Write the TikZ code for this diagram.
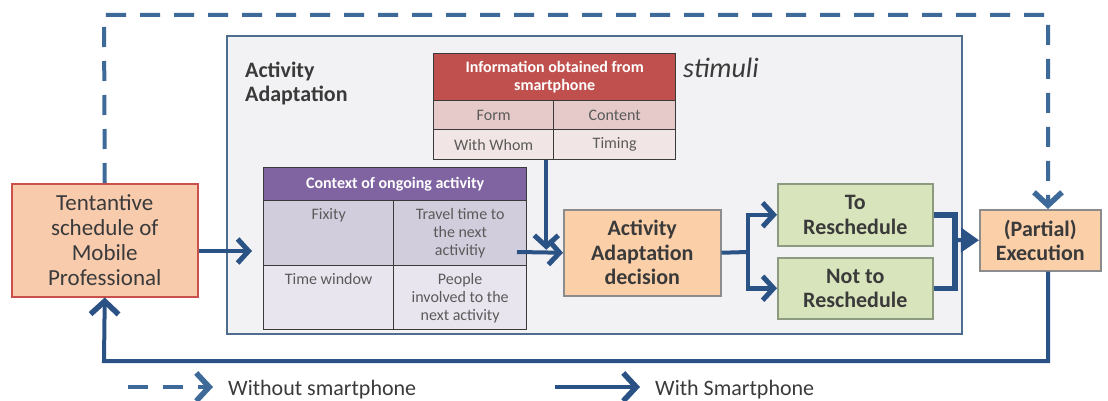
\documentclass[tikz,border=0pt]{standalone}
\usepackage{fontspec}
\setmainfont{Carlito}
\usetikzlibrary{arrows.meta,calc}
\definecolor{conncol}{HTML}{2B5285}
\definecolor{dashcol}{HTML}{3E6A9A}
\definecolor{framecol}{HTML}{4F6D8F}
\definecolor{framefill}{HTML}{F2F2F4}
\definecolor{tentfill}{HTML}{F8CBAD}
\definecolor{tentline}{HTML}{C9504B}
\definecolor{peach}{HTML}{FBCFA8}
\definecolor{boxline}{HTML}{8C8C8C}
\definecolor{greenfill}{HTML}{D8E4BC}
\definecolor{greenline}{HTML}{8C9A80}
\definecolor{redh}{HTML}{C0504D}
\definecolor{redA}{HTML}{E6CACA}
\definecolor{redB}{HTML}{F2E5E5}
\definecolor{purh}{HTML}{8064A2}
\definecolor{purA}{HTML}{D2CDDC}
\definecolor{purB}{HTML}{E8E5EE}
\definecolor{gridcol}{HTML}{3A3A3A}
\definecolor{celltext}{HTML}{5A5A5A}
\definecolor{boxtext}{HTML}{3A3A3A}
\begin{document}
\begin{tikzpicture}[x=1pt,y=-1pt,
  box/.style={draw, line width=1.5pt, inner sep=0pt, anchor=north west, align=center, text=boxtext},
  bigtext/.style={font=\fontsize{22}{24.5}\selectfont\bfseries},
  cell/.style={draw=gridcol, line width=1.3pt, inner sep=0pt, anchor=north west},
  celltxt/.style={inner sep=0pt, anchor=north, align=center, text=celltext, font=\fontsize{16}{18}\selectfont},
  headtxt/.style={align=center, text=white, font=\fontsize{16}{18}\selectfont\bfseries},
  conn/.style={draw=conncol, line width=4pt},
  chev/.style={-{Straight Barb[length=11pt,width=24pt,line width=5pt]}},
  bigchev/.style={-{Straight Barb[length=13pt,width=28pt,line width=5.5pt]}},
  dashconn/.style={draw=dashcol, line width=4pt, dash pattern=on 20pt off 14pt},
]
\useasboundingbox (0,0) rectangle (1108,401);

% frame
\node[draw=framecol, fill=framefill, line width=2pt, inner sep=0pt, anchor=north west,
      minimum width=735pt, minimum height=298pt] (frame) at (226,35) {};
\node[anchor=north west, inner sep=0pt, align=left, text=boxtext,
      font=\fontsize{22}{24}\selectfont\bfseries] (title) at (245,62) {Activity\\Adaptation};
\node[anchor=base west, inner sep=0pt, text=boxtext,
      font=\fontsize{28}{30}\selectfont\itshape] (stim) at (683,78) {stimuli};

% red table
\node[cell, fill=redh, minimum width=242pt, minimum height=47pt, headtxt] (rh) at (433,53)
  {Information obtained from\\smartphone};
\node[cell, fill=redA, minimum width=120pt, minimum height=29pt] (form) at (433,100) {};
\node[cell, fill=redA, minimum width=122pt, minimum height=29pt] (content) at (553,100) {};
\node[cell, fill=redB, minimum width=120pt, minimum height=30pt] (ww) at (433,129) {};
\node[cell, fill=redB, minimum width=122pt, minimum height=30pt] (timing) at (553,129) {};
\node[celltxt, anchor=center] (formt) at (form.center) {Form};
\node[celltxt, anchor=center] (contentt) at (content.center) {Content};
\node[celltxt, anchor=center] (wwt) at (ww.center) {With Whom};
\node[celltxt, anchor=center] (timingt) at (timing.center) {Timing};

% purple table
\node[cell, fill=purh, minimum width=263pt, minimum height=33pt, headtxt] (ph) at (263,167)
  {Context of ongoing activity};
\node[cell, fill=purA, minimum width=130pt, minimum height=65pt] (fix) at (263,200) {};
\node[cell, fill=purA, minimum width=133pt, minimum height=65pt] (trav) at (393,200) {};
\node[cell, fill=purB, minimum width=130pt, minimum height=64pt] (tw) at (263,265) {};
\node[cell, fill=purB, minimum width=133pt, minimum height=64pt] (ppl) at (393,265) {};
\node[celltxt] (fixt) at ([yshift=-8pt]fix.north) {Fixity};
\node[celltxt] (travt) at ([yshift=-8pt]trav.north) {Travel time to\\the next\\activitiy};
\node[celltxt] (twt) at ([yshift=-8pt]tw.north) {Time window};
\node[celltxt] (pplt) at ([yshift=-8pt]ppl.north) {People\\involved to the\\next activity};

% main boxes
\node[box, draw=tentline, fill=tentfill, minimum width=186pt, minimum height=113pt,
      font=\fontsize{23}{25}\selectfont] (tent) at (11,183)
  {Tentantive\\schedule of\\Mobile\\Professional};
\node[box, draw=boxline, fill=peach, minimum width=157pt, minimum height=86pt, bigtext] (dec) at (563,209)
  {Activity\\Adaptation\\decision};
\node[box, draw=greenline, fill=greenfill, minimum width=155pt, minimum height=62pt, bigtext] (to) at (777,183)
  {To\\Reschedule};
\node[box, draw=greenline, fill=greenfill, minimum width=155pt, minimum height=61pt, bigtext] (not) at (777,257)
  {Not to\\Reschedule};
\node[box, draw=boxline, fill=peach, minimum width=121pt, minimum height=61pt, bigtext] (exec) at (979,209)
  {(Partial)\\Execution};

% connectors
\coordinate (ctxin) at (252,251);
\draw[conn, chev] (tent.east |- ctxin) -- (ctxin);
\coordinate (wwx) at ([xshift=-8pt]ww.south east);
\draw[conn, chev, shorten >=3pt] (wwx) -- (wwx |- dec.west);
\coordinate (travout) at (517,252);
\draw[conn, chev] (travout) -- (dec.west);
\coordinate (br) at (748,252);
\draw[conn] (dec.east) -- (br);
\draw[conn, chev, line width=4.5pt] (br) |- (to.west);
\draw[conn, chev, line width=4.5pt] (br) |- (not.west);
\coordinate (jn) at (955,240);
\draw[conn, line width=5.5pt] (to.east) -| (jn);
\draw[conn, line width=5.5pt] (not.east) -| (jn);
\draw[conn, -{Triangle[length=18pt,width=24pt]}] (jn) -- (exec.west);

% feedback loop
\coordinate (lpR) at (1048,361);
\coordinate (lpL) at (104,361);
\draw[conn, bigchev] (exec.south -| lpR) -- (lpR) -- (lpL) -- (tent.south);

% dashed path without smartphone
\coordinate (dTL) at (104,15);
\coordinate (dTR) at (1048,15);
\draw[dashconn, bigchev] (tent.north) -- (dTL) -- (dTR) -- (dTR |- exec.north);

% legend
\coordinate (l1a) at (128,387);
\coordinate (l1b) at (213,387);
\draw[dashconn, dash pattern=on 20pt off 15pt, bigchev] (l1a) -- (l1b);
\node[anchor=base west, inner sep=0pt, text=boxtext, font=\fontsize{22}{24}\selectfont] (leg1) at (228,395) {Without smartphone};
\coordinate (l2a) at (555,387);
\coordinate (l2b) at (640,387);
\draw[conn, bigchev] (l2a) -- (l2b);
\node[anchor=base west, inner sep=0pt, text=boxtext, font=\fontsize{22}{24}\selectfont] (leg2) at (655,395) {With Smartphone};
\end{tikzpicture}
\end{document}
